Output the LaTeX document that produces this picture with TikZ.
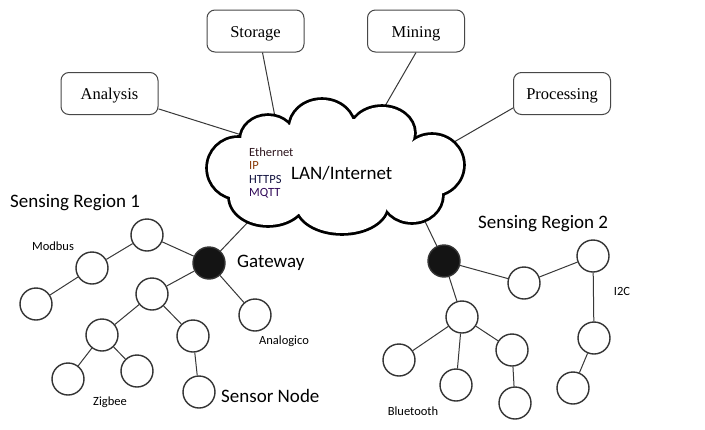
\documentclass[tikz,border=0pt]{standalone}
\usepackage{fontspec}
\setmainfont{Liberation Serif}
\newfontfamily\carl{Carlito}
\definecolor{ethc}{HTML}{301820}
\definecolor{ipc}{HTML}{8A3A08}
\definecolor{httpc}{HTML}{141440}
\definecolor{mqttc}{HTML}{300858}
\begin{document}
\begin{tikzpicture}[x=1pt,y=-1pt,
  box/.style={draw=black!72, line width=1pt, rounded corners=8pt, minimum width=97pt, minimum height=42pt, inner sep=2pt, text height=12.5pt, text depth=0pt, font=\fontsize{16.5}{18}\selectfont},
  sensor/.style={circle, draw=black!80, line width=1.4pt, fill=white, minimum size=32pt, inner sep=0pt},
  hub/.style={sensor, fill=black!92},
  link/.style={draw=black!78, line width=1pt},
  cloudline/.style={draw=black, line width=5.6pt},
  big/.style={font=\carl\fontsize{19}{22}\selectfont, inner sep=0pt},
  small/.style={font=\carl\fontsize{12.5}{13.7}\selectfont, inner sep=0pt},
]
\useasboundingbox[fill=white] (0,0) rectangle (705,429);

% boxes
\node[box] (analysis) at (109.5,93.5) {Analysis};
\node[box] (storage) at (255.5,31) {Storage};
\node[box] (mining) at (416,31) {Mining};
\node[box] (processing) at (562,93.5) {Processing};

% cloud attachment points
\coordinate (c1) at (248,137);
\coordinate (c2) at (276,122);
\coordinate (c3) at (381,113);
\coordinate (c4) at (448,145.5);
\coordinate (c5) at (250,220);
\coordinate (c6) at (421,213);

% sensing region 1
\node[sensor] (n1) at (147,235) {};
\node[sensor] (n2) at (92,268) {};
\node[sensor] (n3) at (36,304) {};
\node[hub] (gw1) at (209,263) {};
\node[sensor] (n4) at (152,294) {};
\node[sensor] (n5) at (102,335) {};
\node[sensor] (n6) at (193,336) {};
\node[sensor] (n7) at (255,315) {};
\node[sensor] (n8) at (68,379) {};
\node[sensor] (n9) at (137,371) {};
\node[sensor] (n10) at (199,392) {};

% sensing region 2
\node[hub] (gw2) at (444,261) {};
\node[sensor] (r1) at (524,283) {};
\node[sensor] (r2) at (593,256) {};
\node[sensor] (r3) at (594,338) {};
\node[sensor] (r4) at (573,388) {};
\node[sensor] (r5) at (462,317) {};
\node[sensor] (r6) at (399,360) {};
\node[sensor] (r7) at (456,385) {};
\node[sensor] (r8) at (512,350) {};
\node[sensor] (r9) at (515,403) {};

% connectors
\draw[link] (analysis) -- (c1);
\draw[link] ([xshift=7pt]storage.south) -- (c2);
\draw[link] (mining.south) -- (c3);
\draw[link] ([yshift=7pt]processing.south west) -- (c4);
\draw[link] (gw1) -- (c5);
\draw[link] (gw2) -- (c6);

\draw[link] (n1) -- (n2);
\draw[link] (n1) -- (gw1);
\draw[link] (n2) -- (n3);
\draw[link] (gw1) -- (n4);
\draw[link] (gw1) -- (n7);
\draw[link] (n4) -- (n5);
\draw[link] (n4) -- (n6);
\draw[link] (n5) -- (n8);
\draw[link] (n5) -- (n9);
\draw[link] (n6) -- (n10);

\draw[link] (gw2) -- (r1);
\draw[link] (r1) -- (r2);
\draw[link] (r2) -- (r3);
\draw[link] (r3) -- (r4);
\draw[link] (gw2) -- (r5);
\draw[link] (r5) -- (r6);
\draw[link] (r5) -- (r7);
\draw[link] (r5) -- (r8);
\draw[link] (r8) -- (r9);

% cloud (union of lobes)
\def\cloudlobes{268/140/27/24, 322/128/32/28, 382/133/32/26, 432/165/31/30, 412/195/30/27, 342/205/45/28, 268/197/38/28, 238/168/30/30}
\foreach \cx/\cy/\rx/\ry in \cloudlobes {
  \draw[cloudline] (\cx,\cy) ellipse [x radius=\rx, y radius=\ry];
}
\foreach \cx/\cy/\rx/\ry in \cloudlobes {
  \fill[white] (\cx,\cy) ellipse [x radius=\rx, y radius=\ry];
}
\fill[white] (335,168) ellipse [x radius=90, y radius=50];

% cloud texts
\node[small, anchor=west, text=ethc] (eth) at (249,152) {Ethernet};
\node[small, anchor=west, text=ipc] (ip) at (249,165.5) {IP};
\node[small, anchor=west, text=httpc] (https) at (249,179) {HTTPS};
\node[small, anchor=west, text=mqttc] (mqtt) at (249,193) {MQTT};
\node[big, anchor=west] (lan) at (291,173) {LAN/Internet};

% labels
\node[big, anchor=west] (sr1) at (10,203) {Sensing Region 1};
\node[small] (modbus) at (53,246) {Modbus};
\node[big, anchor=west] (gwl) at (237,263) {Gateway};
\node[small] (analog) at (284,341) {Analogico};
\node[small] (zig) at (110,402) {Zigbee};
\node[big, anchor=west] (snl) at (221,396) {Sensor Node};
\node[big, anchor=west] (sr2) at (478,224) {Sensing Region 2};
\node[small] (i2c) at (622,291) {I2C};
\node[small] (bt) at (413,411) {Bluetooth};
\end{tikzpicture}
\end{document}
